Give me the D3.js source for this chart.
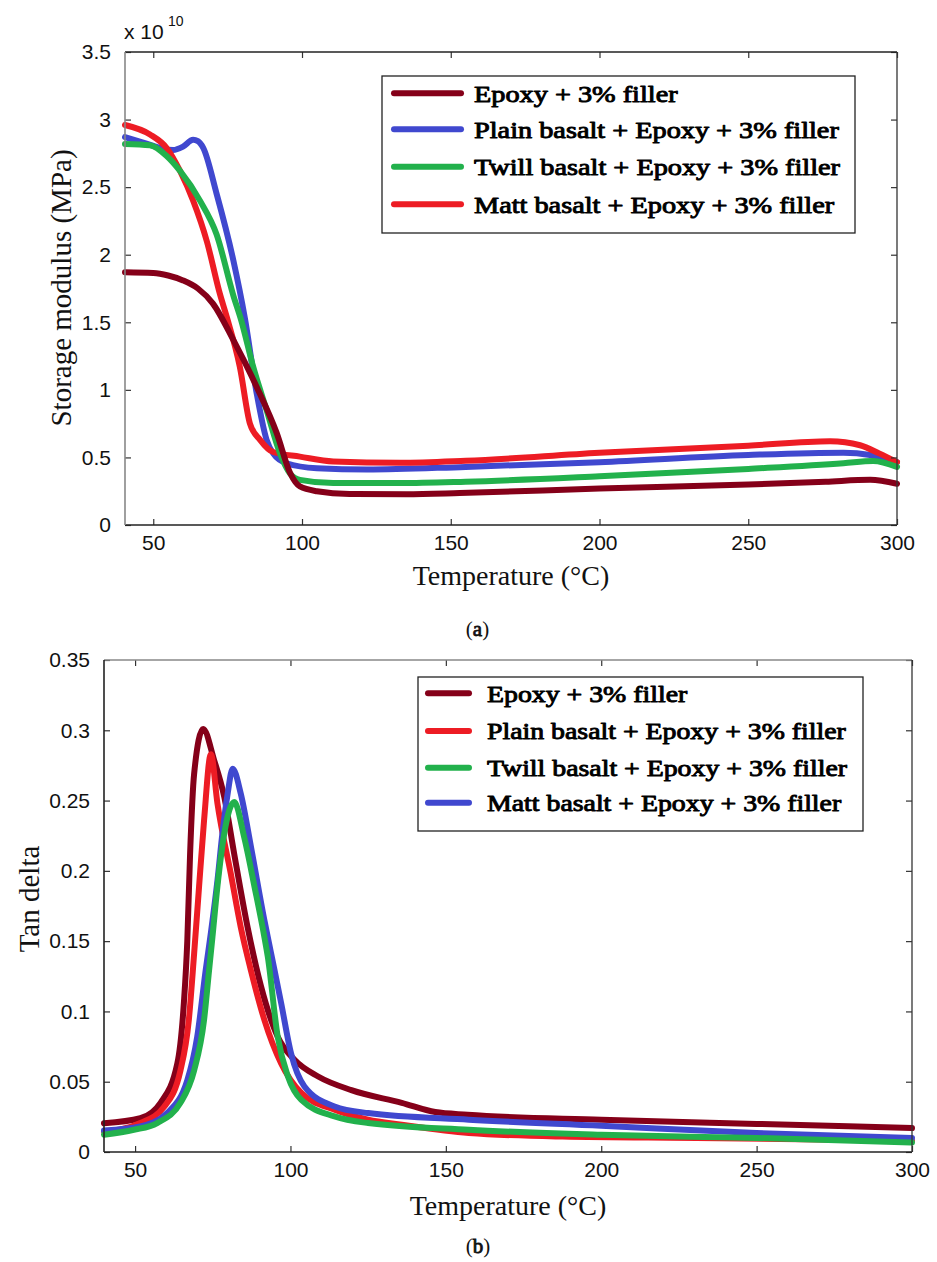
<!DOCTYPE html>
<html><head><meta charset="utf-8">
<script src="https://cdn.jsdelivr.net/npm/d3@7/dist/d3.min.js"></script>
<style>body{margin:0;background:#fff}svg{display:block}</style>
</head><body>
<svg id="c" width="937" height="1262"></svg>
<script>
// ---------- DATA ----------
const seriesNamesA = ["Epoxy + 3% filler","Plain basalt + Epoxy + 3% filler","Twill basalt + Epoxy + 3% filler","Matt basalt + Epoxy + 3% filler"];
const seriesNamesB = ["Epoxy + 3% filler","Plain basalt + Epoxy + 3% filler","Twill basalt + Epoxy + 3% filler","Matt basalt + Epoxy + 3% filler"];
const xTicks = [50,100,150,200,250,300];
const yTicksA = [0,0.5,1,1.5,2,2.5,3,3.5];
const yTickLabelsA = ["0","0.5","1","1.5","2","2.5","3","3.5"];
const yTicksB = [0,0.05,0.1,0.15,0.2,0.25,0.3,0.35];
const yTickLabelsB = ["0","0.05","0.1","0.15","0.2","0.25","0.3","0.35"];

// Storage modulus (x 1e10) : [temperature, value]
const epoxyA = [[40.5,1.87],[50,1.865],[55,1.846],[60,1.81],[65,1.75],[70,1.64],[76.9,1.37],[84.8,1.02],[91.5,0.68],[96,0.385],[99.3,0.285],[105,0.25],[116,0.23],[135,0.228],[153,0.236],[200,0.27],[250,0.30],[276,0.32],[291,0.334],[300,0.305]];
const plainA = [[40.5,2.87],[48,2.82],[53,2.785],[56.7,2.775],[60,2.8],[63.4,2.85],[65,2.84],[66.8,2.79],[71.3,2.45],[76.9,1.96],[80.8,1.53],[84.8,0.97],[88.1,0.63],[90.3,0.53],[94.8,0.457],[105,0.42],[121.8,0.41],[155,0.43],[200,0.465],[250,0.518],[282,0.535],[291,0.518],[300,0.465]];
const twillA = [[40.5,2.82],[48.9,2.81],[54.5,2.73],[59,2.62],[65.7,2.40],[71.3,2.15],[76.9,1.70],[79.5,1.52],[83.6,1.17],[88.1,0.85],[92.6,0.53],[96,0.38],[99.3,0.334],[110.5,0.31],[133,0.31],[155,0.32],[200,0.36],[250,0.415],[282,0.457],[292,0.474],[300,0.43]];
const mattA = [[40.5,2.96],[48.9,2.89],[54.5,2.79],[59,2.62],[63.4,2.40],[68,2.10],[72.4,1.71],[74.7,1.54],[79.1,1.17],[82.5,0.75],[85.9,0.63],[90.3,0.54],[99.3,0.506],[110.5,0.47],[133,0.46],[155,0.475],[200,0.535],[250,0.587],[277.5,0.62],[287.6,0.59],[294,0.53],[300,0.465]];

// Tan delta : [temperature, value]
const epoxyB = [[40,0.0205],[51.7,0.024],[58.2,0.035],[63.6,0.063],[65.7,0.106],[66.8,0.15],[67.7,0.212],[69,0.269],[71.9,0.301],[75.4,0.279],[78.7,0.2526],[81.9,0.212],[86.2,0.16],[90.5,0.118],[95.9,0.082],[101.3,0.0656],[108.9,0.0537],[119.6,0.044],[135.8,0.035],[146.6,0.0284],[157,0.0265],[200,0.023],[250,0.02],[300,0.017]];
const plainB = [[40,0.0144],[51.7,0.0206],[59.3,0.032],[64.6,0.058],[67.3,0.094],[69,0.141],[70.6,0.189],[72.2,0.236],[74.4,0.283],[76.5,0.248],[80.8,0.198],[84,0.16],[87.3,0.129],[91.6,0.094],[97,0.063],[103.5,0.042],[114.2,0.030],[125,0.023],[135.8,0.0194],[157.4,0.0135],[187.6,0.011],[230.7,0.010],[300,0.008]];
const twillB = [[40,0.0123],[49.6,0.0158],[57.1,0.0206],[64.6,0.035],[69,0.058],[72.2,0.094],[73.8,0.129],[74.9,0.153],[76.5,0.189],[78.7,0.2266],[81.9,0.249],[85.1,0.224],[88.4,0.189],[91.6,0.153],[92.7,0.139],[95.9,0.082],[99.2,0.0537],[103.5,0.037],[114.2,0.0253],[125,0.0206],[157.4,0.0158],[200,0.0123],[250,0.010],[300,0.0068]];
const mattB = [[40,0.0153],[51.7,0.0182],[60.3,0.0277],[66.8,0.051],[70,0.082],[72.7,0.129],[74.4,0.156],[76.5,0.193],[78.1,0.2266],[79.8,0.255],[81.4,0.2727],[84,0.255],[87.3,0.217],[91.6,0.165],[93.8,0.141],[97,0.106],[100.2,0.070],[104.5,0.0466],[114.2,0.0324],[125,0.0277],[157.4,0.023],[200,0.0187],[250,0.0135],[300,0.010]];

const colEpoxy = "#850019", colBlue = "#4048cf", colGreen = "#22b14c", colRed = "#ed1c24";

// ---------- DRAW ----------
const svg = d3.select("#c");
const sans = "'Liberation Sans', Arial, sans-serif";
const serif = "'Liberation Serif', 'Times New Roman', serif";

function panel(cfg){
  const g = svg.append("g");
  const x = d3.scaleLinear().domain(cfg.xDomain).range([cfg.left, cfg.right]);
  const y = d3.scaleLinear().domain(cfg.yDomain).range([cfg.bottom, cfg.top]);
  const line = d3.line().x(d=>x(d[0])).y(d=>y(d[1])).curve(d3.curveMonotoneX);

  const cid = "clip"+cfg.id;
  svg.append("clipPath").attr("id",cid).append("rect")
    .attr("x",cfg.left-4).attr("y",cfg.top).attr("width",cfg.right-cfg.left+8).attr("height",cfg.bottom-cfg.top+4);

  const lg = g.append("g").attr("clip-path",`url(#${cid})`);
  cfg.series.forEach(s=>{
    lg.append("path").datum(s.data).attr("d",line)
      .attr("fill","none").attr("stroke",s.color).attr("stroke-width",6)
      .attr("stroke-linecap","round").attr("stroke-linejoin","round");
  });

  const tl = 6;
  const axB = d3.axisBottom(x).tickValues(xTicks).tickSizeInner(-tl).tickSizeOuter(0).tickPadding(10).tickFormat(d3.format("d"));
  const axT = d3.axisTop(x).tickValues(xTicks).tickSizeInner(-tl).tickSizeOuter(0).tickFormat("");
  const axL = d3.axisLeft(y).tickValues(cfg.yTicks).tickSizeInner(-tl).tickSizeOuter(0).tickPadding(14)
    .tickFormat((d,i)=>cfg.yLabels[i]);
  const axR = d3.axisRight(y).tickValues(cfg.yTicks).tickSizeInner(-tl).tickSizeOuter(0).tickFormat("");

  const gb = g.append("g").attr("transform",`translate(0,${cfg.bottom})`).call(axB);
  const gt = g.append("g").attr("transform",`translate(0,${cfg.top})`).call(axT);
  const gl = g.append("g").attr("transform",`translate(${cfg.left},0)`).call(axL);
  const gr = g.append("g").attr("transform",`translate(${cfg.right},0)`).call(axR);
  [gb,gt,gl,gr].forEach(a=>{
    a.select(".domain").remove();
    a.selectAll("line").attr("stroke","#333").attr("stroke-width",1.2);
    a.selectAll("text").attr("font-family",sans).attr("font-size",21).attr("fill","#111");
  });
  gb.selectAll("text").attr("dy","0.71em");
  g.append("line").attr("x1",cfg.left).attr("x2",cfg.right).attr("y1",cfg.bottom).attr("y2",cfg.bottom).attr("stroke","#222").attr("stroke-width",1.5);
  g.append("line").attr("x1",cfg.left).attr("x2",cfg.right).attr("y1",cfg.top).attr("y2",cfg.top).attr("stroke",cfg.topColor).attr("stroke-width",1.5);
  g.append("line").attr("x1",cfg.left).attr("x2",cfg.left).attr("y1",cfg.top).attr("y2",cfg.bottom).attr("stroke",cfg.leftColor).attr("stroke-width",1.6);
  g.append("line").attr("x1",cfg.right).attr("x2",cfg.right).attr("y1",cfg.top).attr("y2",cfg.bottom).attr("stroke","#333").attr("stroke-width",1.3);

  g.append("text").attr("x",(cfg.left+cfg.right)/2).attr("y",cfg.xTitleY).attr("text-anchor","middle")
    .attr("font-family",serif).attr("font-size",28).attr("fill","#111").text("Temperature (°C)");
  g.append("text").attr("transform",`translate(${cfg.yTitleX},${cfg.yTitleCY}) rotate(-90)`).attr("text-anchor","middle")
    .attr("font-family",serif).attr("font-size",29).attr("fill","#111").text(cfg.yTitle);

  // legend
  const L = cfg.legend;
  g.append("rect").attr("x",L.x).attr("y",L.y).attr("width",L.w).attr("height",L.h)
    .attr("fill","#fff").attr("stroke","#222").attr("stroke-width",1.3);
  const texts = [];
  cfg.legendItems.forEach((it,i)=>{
    const yy = L.rows[i];
    g.append("line").attr("x1",L.lx1).attr("x2",L.lx2).attr("y1",yy).attr("y2",yy)
      .attr("stroke",it.color).attr("stroke-width",6).attr("stroke-linecap","round");
    texts.push(g.append("text").attr("x",L.tx).attr("y",yy).attr("dy","0.36em")
      .attr("font-family",serif).attr("font-size",23).attr("fill","#000")
      .attr("stroke","#000").attr("stroke-width",0.9).attr("stroke-linejoin","round")
      .text(it.name));
  });
  // widen glyphs (Palatino-like proportions) to match the reference width
  let maxW = 0; texts.forEach(t=>{maxW=Math.max(maxW,t.node().getComputedTextLength());});
  const k = L.textW/maxW;
  texts.forEach(t=>{const w=t.node().getComputedTextLength(); t.attr("textLength",w*k).attr("lengthAdjust","spacingAndGlyphs");});
  return {x,y,g};
}

const pA = panel({
  id:"A", xDomain:[40.5,300], yDomain:[0,3.5], left:125, right:897, top:52, bottom:525,
  yTicks:yTicksA, yLabels:yTickLabelsA, topColor:"#222", leftColor:"#888",
  xTitleY:585, yTitleX:71, yTitleCY:288, yTitle:"Storage modulus (MPa)",
  series:[{data:plainA,color:colBlue},{data:mattA,color:colRed},{data:twillA,color:colGreen},{data:epoxyA,color:colEpoxy}],
  legend:{x:382,y:76,w:473,h:157,lx1:394,lx2:461,tx:474,textW:366,rows:[93.3,129.3,166.7,204.3]},
  legendItems:[{name:seriesNamesA[0],color:colEpoxy},{name:seriesNamesA[1],color:colBlue},{name:seriesNamesA[2],color:colGreen},{name:seriesNamesA[3],color:colRed}]
});
pA.g.append("text").attr("x",124).attr("y",39).attr("font-family",sans).attr("font-size",21).attr("fill","#111").text("x 10");
pA.g.append("text").attr("x",168).attr("y",26).attr("font-family",sans).attr("font-size",14).attr("fill","#111").text("10");

const pB = panel({
  id:"B", xDomain:[40,300], yDomain:[0,0.35], left:104, right:912, top:660, bottom:1152,
  yTicks:yTicksB, yLabels:yTickLabelsB, topColor:"#888", leftColor:"#222",
  xTitleY:1215, yTitleX:39, yTitleCY:899, yTitle:"Tan delta",
  series:[{data:epoxyB,color:colEpoxy},{data:plainB,color:colRed},{data:mattB,color:colBlue},{data:twillB,color:colGreen}],
  legend:{x:418,y:677,w:445,h:154,lx1:428,lx2:469,tx:487,textW:360,rows:[693.3,731,767.7,802.7]},
  legendItems:[{name:seriesNamesB[0],color:colEpoxy},{name:seriesNamesB[1],color:colRed},{name:seriesNamesB[2],color:colGreen},{name:seriesNamesB[3],color:colBlue}]
});

[[477.5,636,"a"],[478,1253,"b"]].forEach(c=>{
  const t = svg.append("text").attr("x",c[0]).attr("y",c[1]).attr("text-anchor","middle")
    .attr("font-family",serif).attr("font-size",21).attr("fill","#111");
  t.append("tspan").text("(");
  t.append("tspan").attr("stroke","#111").attr("stroke-width",0.8).text(c[2]);
  t.append("tspan").text(")");
});
</script>
</body></html>
